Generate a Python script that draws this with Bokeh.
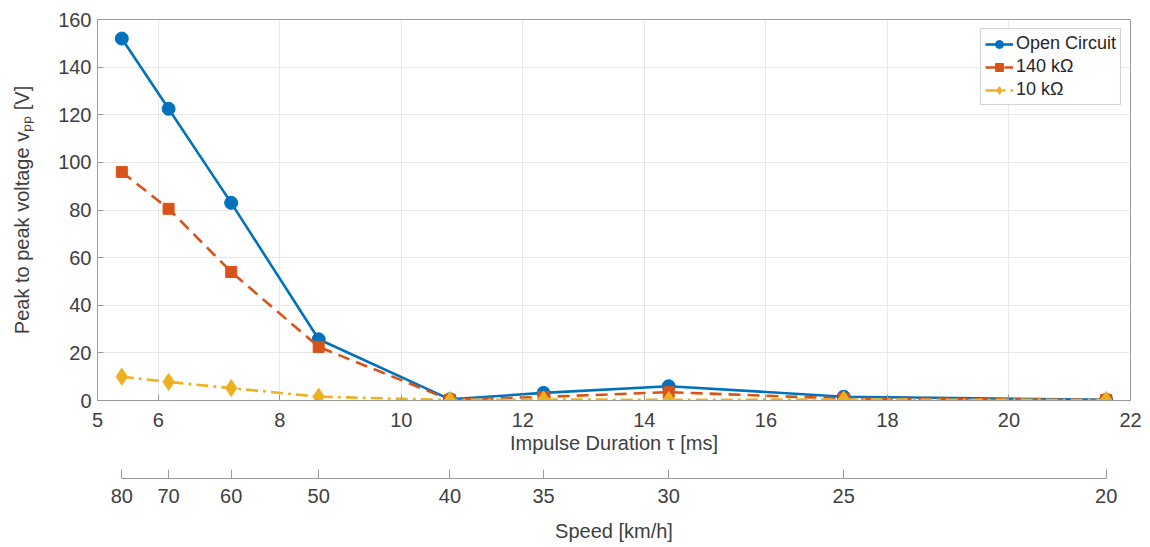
from bokeh.plotting import figure
from bokeh.models import LinearAxis, FixedTicker, Range1d, Legend
from bokeh.embed import file_html
from bokeh.resources import INLINE

# ---- data ----
tau_ms = [5.4, 6.17, 7.2, 8.64, 10.8, 12.34, 14.4, 17.28, 21.6]
speed_labels = ["80", "70", "60", "50", "40", "35", "30", "25", "20"]
open_circuit = [152, 122.5, 83, 25.7, 0.5, 3.2, 6.0, 1.6, 0.3]
r140k = [96, 80.5, 54, 22.5, 0.3, 1.5, 3.5, 0.8, 0.2]
r10k = [10, 7.8, 5.2, 1.6, 0.2, 0.4, 0.3, 0.4, 0.2]
x_ticks = [5, 6, 8, 10, 12, 14, 16, 18, 20, 22]
y_ticks = [0, 20, 40, 60, 80, 100, 120, 140, 160]

FONT = "Liberation Sans"
TXT = "#404040"
AX = "#9a9a9a"

p = figure(width=1150, height=547, output_backend="svg", toolbar_location=None,
           x_range=Range1d(5, 22), y_range=Range1d(0, 160),
           min_border_left=97, min_border_right=20, min_border_top=19,
           min_border_bottom=147)
p.outline_line_color = AX
p.background_fill_color = "white"
p.border_fill_color = "white"

# primary axes
for ax in (p.xaxis[0], p.yaxis[0]):
    ax.axis_line_color = AX
    ax.major_tick_line_color = AX
    ax.major_tick_in = 6
    ax.major_tick_out = 0
    ax.minor_tick_line_color = None
    ax.major_label_text_font = FONT
    ax.major_label_text_font_size = "20px"
    ax.major_label_text_color = TXT
    ax.axis_label_text_font = FONT
    ax.axis_label_text_font_size = "20px"
    ax.axis_label_text_font_style = "normal"
    ax.axis_label_text_color = TXT

p.xaxis[0].ticker = FixedTicker(ticks=x_ticks)
p.yaxis[0].ticker = FixedTicker(ticks=y_ticks)
p.xaxis[0].axis_label = "Impulse Duration \u03c4 [ms]"
p.yaxis[0].axis_label = "Peak to peak voltage v\u209a\u209a [V]"
p.xaxis[0].major_label_standoff = 12
p.xaxis[0].axis_label_standoff = 2
p.yaxis[0].major_label_standoff = 6
p.yaxis[0].axis_label_standoff = 22

p.xgrid.grid_line_color = "#e8e8e8"
p.ygrid.grid_line_color = "#e8e8e8"

# spacer axis
spacer = LinearAxis(ticker=FixedTicker(ticks=[]), axis_line_color=None,
                    major_tick_line_color=None, minor_tick_line_color=None,
                    major_label_text_font_size="1px", axis_label="\u00a0",
                    axis_label_text_font_size="17px", axis_label_standoff=0)
p.add_layout(spacer, "below")

# speed axis
speed_axis = LinearAxis(ticker=FixedTicker(ticks=tau_ms),
                        major_label_overrides={t: s for t, s in zip(tau_ms, speed_labels)},
                        bounds=(tau_ms[0], tau_ms[-1]),
                        axis_label="Speed [km/h]")
speed_axis.axis_line_color = AX
speed_axis.major_tick_line_color = AX
speed_axis.major_tick_in = 9
speed_axis.major_tick_out = 0
speed_axis.minor_tick_line_color = None
speed_axis.major_label_text_font = FONT
speed_axis.major_label_text_font_size = "20px"
speed_axis.major_label_text_color = TXT
speed_axis.major_label_standoff = 10
speed_axis.axis_label_text_font = FONT
speed_axis.axis_label_text_font_size = "20px"
speed_axis.axis_label_text_font_style = "normal"
speed_axis.axis_label_text_color = TXT
speed_axis.axis_label_standoff = 14
p.add_layout(speed_axis, "below")

BLUE, ORANGE, YELLOW = "#0072BD", "#D95319", "#EDB120"

l1 = p.line(tau_ms, open_circuit, line_color=BLUE, line_width=2.6)
m1 = p.scatter(tau_ms, open_circuit, marker="circle", size=13, fill_color=BLUE, line_color=BLUE)
l2 = p.line(tau_ms, r140k, line_color=ORANGE, line_width=2.6, line_dash="12 7")
m2 = p.scatter(tau_ms, r140k, marker="square", size=11, fill_color=ORANGE, line_color=ORANGE)
l3 = p.line(tau_ms, r10k, line_color=YELLOW, line_width=2.6, line_dash="12 5 3 5")
m3 = p.scatter(tau_ms, r10k, marker="diamond", size=17, fill_color=YELLOW, line_color=YELLOW)

legend = Legend(items=[("Open Circuit", [l1, m1]), ("140 k\u03a9", [l2, m2]), ("10 k\u03a9", [l3, m3])],
                location="top_right")
legend.label_text_font = FONT
legend.label_text_font_size = "18px"
legend.label_text_color = "#262626"
legend.label_height = 20
legend.glyph_width = 28
legend.glyph_height = 20
legend.spacing = 2
legend.padding = 4
legend.margin = 9
legend.label_standoff = 3
legend.border_line_color = "#a8a8a8"
legend.background_fill_alpha = 1
p.add_layout(legend)

open("out.html", "w").write(file_html(p, INLINE))
